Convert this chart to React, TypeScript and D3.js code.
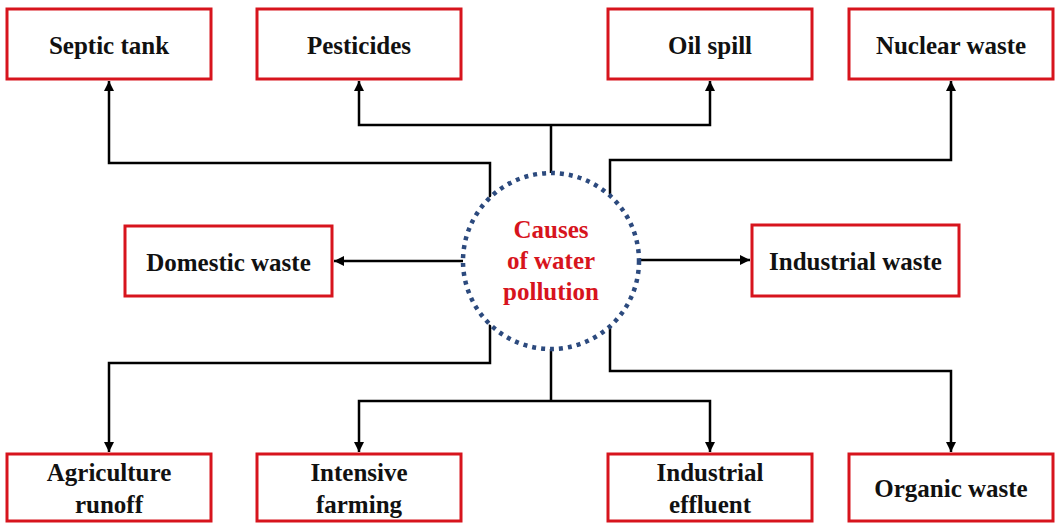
import React from 'react';
import * as d3 from 'd3';

// labels of the cause boxes (lines split where the picture wraps them)
const topLabels = [['Septic tank'], ['Pesticides'], ['Oil spill'], ['Nuclear waste']];
const sideLabels = [['Domestic waste'], ['Industrial waste']];
const bottomLabels = [['Agriculture', 'runoff'], ['Intensive', 'farming'], ['Industrial', 'effluent'], ['Organic waste']];
const centerLabel = ['Causes', 'of water', 'pollution'];

const W = 1058;
const H = 524;
const RED = '#d7141d';
const NAVY = '#2c4a7e';
const FONT = '"Liberation Serif", "Times New Roman", serif';

// layout
const colX = [109, 359, 710, 951];
const boxW = 204;
const topBox = { y0: 9, y1: 79 };
const botBox = { y0: 454, y1: 521 };
const sideBox = [
  { x0: 125, x1: 332, y0: 226, y1: 296 },
  { x0: 752, x1: 959, y0: 225, y1: 296 },
];
const circle = { cx: 551, cy: 261, r: 88 };
const elbowX = [490, 610]; // vertical stubs leaving the circle
const topRailY = [163, 125, 125, 160];
const botRailY = [363, 401, 401, 371];

const line = d3.line<[number, number]>().x((d) => d[0]).y((d) => d[1]);

function circleY(x: number, sign: number) {
  const dx = x - circle.cx;
  return circle.cy + sign * Math.sqrt(circle.r * circle.r - dx * dx);
}

function Box({ x0, x1, y0, y1, lines }: { x0: number; x1: number; y0: number; y1: number; lines: string[] }) {
  const cx = (x0 + x1) / 2;
  const cy = (y0 + y1) / 2;
  const lh = 32;
  const start = cy - ((lines.length - 1) * lh) / 2 + 9.5;
  return (
    <g>
      <rect x={x0} y={y0} width={x1 - x0} height={y1 - y0} fill="#fff" stroke={RED} strokeWidth={3} />
      {lines.map((t, i) => (
        <text key={i} x={cx} y={start + i * lh} textAnchor="middle" style={{ fontFamily: FONT }} fontSize={25} fontWeight="bold" fill="#111">
          {t}
        </text>
      ))}
    </g>
  );
}

export default function App() {
  const paths: [number, number][][] = [];
  const arrows: [number, number][][] = [];

  // top connectors
  const yTopL = circleY(elbowX[0], -1);
  const yTopR = circleY(elbowX[1], -1);
  const yTop = circle.cy - circle.r;
  arrows.push([[elbowX[0], yTopL], [elbowX[0], topRailY[0]], [colX[0], topRailY[0]], [colX[0], topBox.y1 + 2]]);
  paths.push([[circle.cx, yTop], [circle.cx, topRailY[1]]]);
  arrows.push([[circle.cx, topRailY[1]], [colX[1], topRailY[1]], [colX[1], topBox.y1 + 2]]);
  arrows.push([[circle.cx, topRailY[2]], [colX[2], topRailY[2]], [colX[2], topBox.y1 + 2]]);
  arrows.push([[elbowX[1], yTopR], [elbowX[1], topRailY[3]], [colX[3], topRailY[3]], [colX[3], topBox.y1 + 2]]);

  // side connectors
  arrows.push([[circle.cx - circle.r, circle.cy], [sideBox[0].x1 + 2, circle.cy]]);
  arrows.push([[circle.cx + circle.r, circle.cy - 1], [sideBox[1].x0 - 2, circle.cy - 1]]);

  // bottom connectors
  const yBotL = circleY(elbowX[0], 1);
  const yBotR = circleY(elbowX[1], 1);
  const yBot = circle.cy + circle.r;
  arrows.push([[elbowX[0], yBotL], [elbowX[0], botRailY[0]], [colX[0], botRailY[0]], [colX[0], botBox.y0 - 2]]);
  paths.push([[circle.cx, yBot], [circle.cx, botRailY[1]]]);
  arrows.push([[circle.cx, botRailY[1]], [colX[1], botRailY[1]], [colX[1], botBox.y0 - 2]]);
  arrows.push([[circle.cx, botRailY[2]], [colX[2], botRailY[2]], [colX[2], botBox.y0 - 2]]);
  arrows.push([[elbowX[1], yBotR], [elbowX[1], botRailY[3]], [colX[3], botRailY[3]], [colX[3], botBox.y0 - 2]]);

  return (
    <div style={{ position: 'absolute', left: 0, top: 0 }}>
      <svg width={W} height={H} style={{ display: 'block' }}>
        <defs>
          <marker id="arr" viewBox="0 0 10 10" refX={10} refY={5} markerWidth={4} markerHeight={4} orient="auto" markerUnits="strokeWidth">
            <path d="M0,0 L10,5 L0,10 z" fill="#000" />
          </marker>
        </defs>
        <rect width={W} height={H} fill="#fff" />

        {paths.map((p, i) => (
          <path key={'p' + i} d={line(p) || ''} fill="none" stroke="#000" strokeWidth={2.5} />
        ))}
        {arrows.map((p, i) => (
          <path key={'a' + i} d={line(p) || ''} fill="none" stroke="#000" strokeWidth={2.5} markerEnd="url(#arr)" />
        ))}

        <circle cx={circle.cx} cy={circle.cy} r={circle.r} fill="#fff" stroke={NAVY} strokeWidth={4.5} strokeDasharray="4 5" />
        {centerLabel.map((t, i) => (
          <text key={i} x={circle.cx} y={238 + i * 31} textAnchor="middle" style={{ fontFamily: FONT }} fontSize={25} fontWeight="bold" fill={RED}>
            {t}
          </text>
        ))}

        {topLabels.map((l, i) => (
          <Box key={'t' + i} x0={colX[i] - boxW / 2} x1={colX[i] + boxW / 2} y0={topBox.y0} y1={topBox.y1} lines={l} />
        ))}
        {sideLabels.map((l, i) => (
          <Box key={'s' + i} {...sideBox[i]} lines={l} />
        ))}
        {bottomLabels.map((l, i) => (
          <Box key={'b' + i} x0={colX[i] - boxW / 2} x1={colX[i] + boxW / 2} y0={botBox.y0} y1={botBox.y1} lines={l} />
        ))}
      </svg>
    </div>
  );
}
